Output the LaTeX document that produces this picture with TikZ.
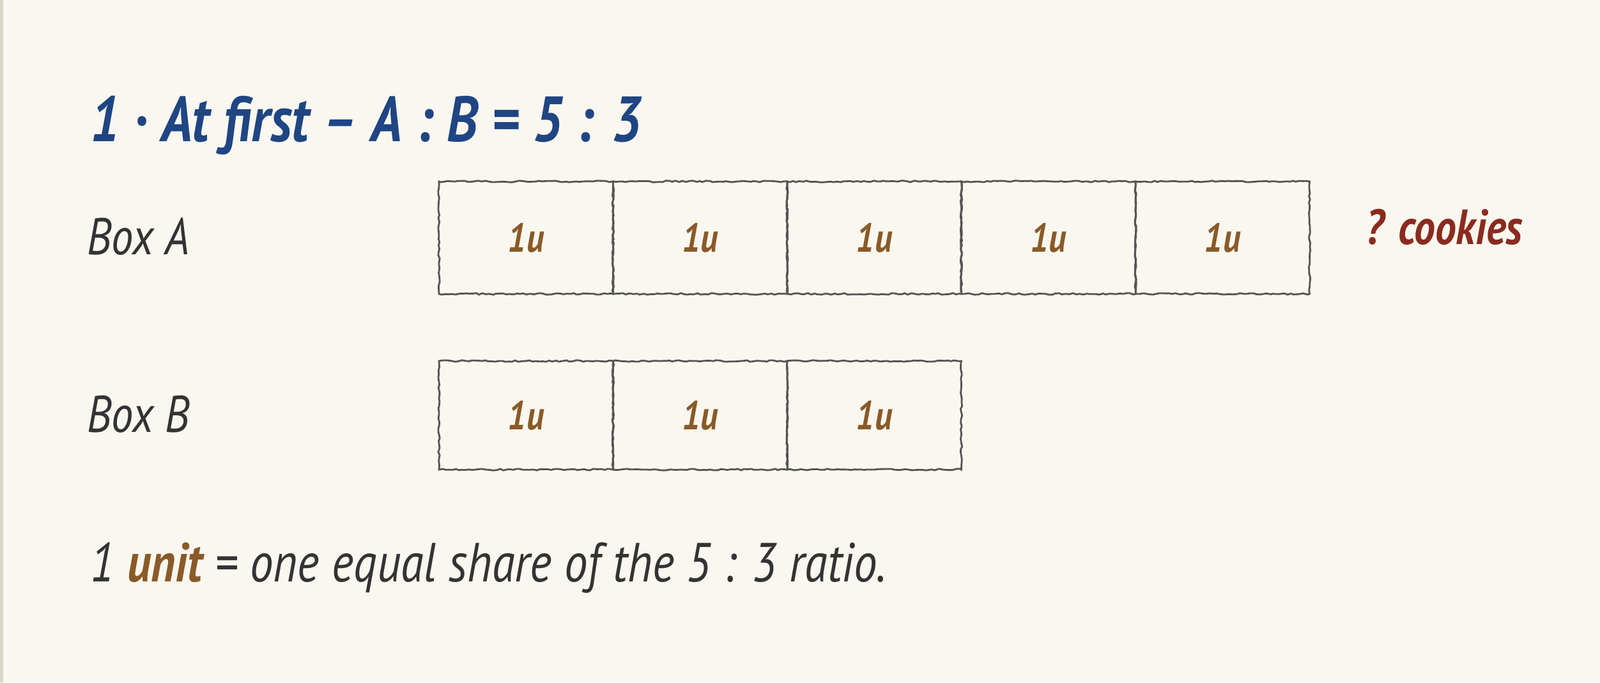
\documentclass[tikz,border=0pt]{standalone}
\usepackage{fontspec}
\setmainfont{PT Sans}[FakeStretch=0.85]
\usetikzlibrary{decorations.pathmorphing}

\definecolor{paper}{HTML}{F9F7EF}
\definecolor{sidebar}{HTML}{DAD6CA}
\definecolor{inkblue}{HTML}{1F4583}
\definecolor{inkgray}{HTML}{333333}
\definecolor{pencil}{HTML}{555555}
\definecolor{unitbrown}{HTML}{8A5A28}
\definecolor{cookred}{HTML}{8B2B1F}

\tikzset{
  cell/.style={draw=pencil, line width=0.8pt, inner sep=0pt,
    minimum width=2.725cm, minimum height=1.76cm,
    decorate, decoration={random steps, segment length=1.5pt, amplitude=0.35pt},
    text=unitbrown, font=\fontsize{18}{21}\selectfont\itshape\bfseries},
  rowlabel/.style={anchor=base west, inner sep=0pt, text=inkgray,
    font=\fontsize{23}{27}\selectfont\itshape}
}

\begin{document}
\begin{tikzpicture}
%% paper
\fill[paper] (0,0) rectangle (25.04,10.68);
\useasboundingbox (0,0) rectangle (25.04,10.68);
\fill[sidebar] (0,0) rectangle (0.05,10.68);
%% heading
\node[anchor=base west, inner sep=0pt, text=inkblue,
  font=\fontsize{28.5}{33}\selectfont\itshape\bfseries] (head) at (1.41,8.46)
  {1 · At first -- A : B = 5 : 3};
%% row labels
\node[rowlabel] (labA) at (1.36,6.69) {Box A};
\node[rowlabel] (labB) at (1.36,3.91) {Box B};
%%% unit cells
\foreach \i in {1,...,5}
  \node[cell] (a\i) at ({6.87+2.725*(\i-0.5)},6.96) {1u};
\foreach \i in {1,...,3}
  \node[cell, minimum height=1.70cm] (b\i) at ({6.87+2.725*(\i-0.5)},4.18) {1u};
%% unknown amount
\node[anchor=base west, inner sep=0pt, text=cookred,
  font=\fontsize{22}{26}\selectfont\itshape\bfseries] (cookies) at (21.37,6.85)
  {? cookies};
%% note
\node[anchor=base west, inner sep=0pt, text=inkgray,
  font=\fontsize{24.5}{29}\selectfont\itshape] (note) at (1.41,1.58)
  {1 \textcolor{unitbrown}{\bfseries unit} = one equal share of the 5 : 3 ratio.};
\end{tikzpicture}
\end{document}
